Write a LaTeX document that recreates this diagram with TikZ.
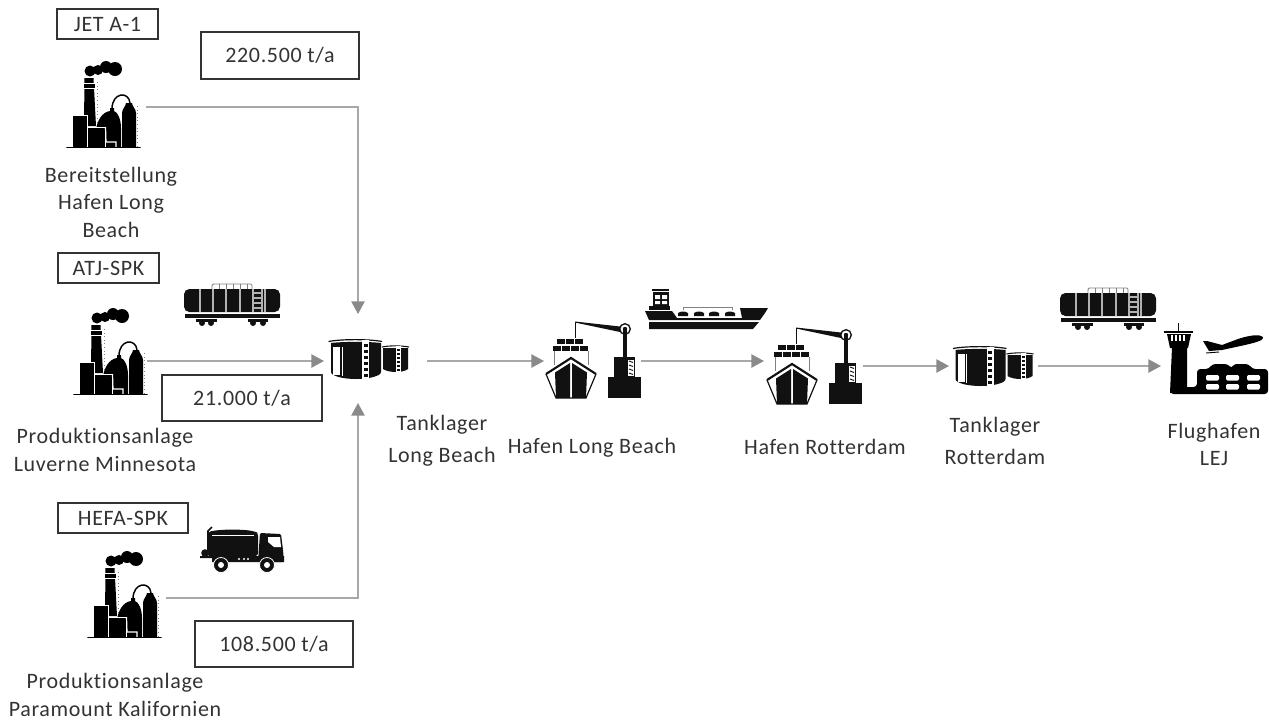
\documentclass[tikz,border=0pt]{standalone}
\usepackage{fontspec}
\setmainfont{Carlito}[LetterSpace=3,RawFeature=-liga]
\usetikzlibrary{arrows.meta}
\definecolor{icon}{HTML}{111111}
\definecolor{txt}{HTML}{333333}
\definecolor{flow}{HTML}{A8A8A8}
\definecolor{tip}{HTML}{8A8A8A}
\tikzset{
  box/.style={draw=txt,line width=1.1pt,fill=white,text=txt,font=\fontsize{16.5}{20}\selectfont,inner sep=0pt},
  caption/.style={text=txt,align=center,font=\fontsize{16.5}{20.6}\selectfont,inner sep=0pt},
  flowline/.style={flow,line width=1.1pt,-{Triangle[length=9.5pt,width=10pt,fill=tip,color=tip]}},
  factory/.pic={
    \fill[black] (18.5,-70) -- (27.5,-70) -- (30,-22) -- (18,-22) -- cycle;
    \fill[black] (18,-64) rectangle (29,-60);
    \draw[white,line width=.4pt] (18,-65) -- (28,-65) (18,-59.5) -- (29,-59.5);
    \foreach \sx/\sy/\sr in {24/-77/5.5,32/-78/5,40/-81/6,49/-79/7} \fill[black] (\sx,\sy) circle (\sr);
    \draw[gray,dotted,line width=.7pt] (31,-66) -- (31,-24) (71.5,-42) -- (71.5,-2);
    \fill[black,draw=white,line width=.5pt] (6,-33) rectangle (21.5,-1);
    \fill[black] (30,-18) .. controls (31,-27) and (36,-36) .. (44,-37) -- (44,-40) -- (48,-40) -- (48,-37) .. controls (52,-36) and (55,-28) .. (55,-20) -- (55,-1) -- (30,-1) -- cycle;
    \fill[black,draw=white,line width=.7pt] (21.5,-21) rectangle (39.5,-1);
    \draw[white,line width=.9pt] (39.5,-21) -- (40,-6) -- (50,-6) -- (50,-1);
    \draw[black,line width=1.1pt] (46,-39) .. controls (46,-56) and (63,-57) .. (64,-45);
    \fill[black] (56,-1) -- (56,-35) .. controls (56,-39) and (60,-42) .. (60,-45) -- (66,-45) .. controls (66,-42) and (70,-39) .. (70,-35) -- (70,-1) -- cycle;
    \draw[black,line width=1.4pt,line cap=round] (1,-.5) -- (74,-.5);
  },
  tanklager/.pic={
    \fill[icon] (2,5) .. controls (14,3.5) and (40,3.5) .. (52,5) -- (52,34) .. controls (52,38) and (40,41) .. (27,41) .. controls (14,41) and (2,38) .. (2,34) -- cycle;
    \draw[icon,line width=.9pt] (-.5,3.5) .. controls (12,1) and (40,1) .. (53,3.5);
    \fill[white] (4,9) rectangle (11,37);
    \draw[white,line width=.6pt] (13,9) -- (13,38);
    \fill[white] (33,2) rectangle (40,41);
    \foreach \ly in {6,12,...,36} \fill[icon] (34.5,\ly) rectangle (38.5,\ly+3);
    \fill[icon] (54,10) -- (54,31) .. controls (60,35) and (74,35) .. (79,31) -- (79,10) -- cycle;
    \draw[icon,line width=.8pt] (53,9) .. controls (60,7.5) and (72,7.5) .. (80,9);
    \fill[white] (67,8) rectangle (72,34);
    \foreach \ly in {11,15,...,31} \fill[icon] (68,\ly) rectangle (71,\ly+2);
  },
  harbour/.pic={
    \foreach \cx in {-14,-5,4} \fill[icon] (\cx,-18) rectangle +(8,5);
    \foreach \cx in {-18,-9,0,9} \fill[icon] (\cx,-11) rectangle +(8,5);
    \draw[gray,line width=.6pt] (-17,-6) -- (-17,8) (17,-6) -- (17,8);
    \draw[icon,line width=1.6pt] (-25,17) -- (0,1) -- (25,17);
    \draw[icon,line width=.9pt] (-25,17) -- (-15,41) -- (15,41) -- (25,17);
    \fill[icon] (-1,6) -- (-16,15.5) -- (-15,41) -- (-1,41) -- cycle;
    \fill[icon] (1,6) -- (16,15.5) -- (15,41) -- (1,41) -- cycle;
    \fill[icon] (37,20) rectangle (70,41);
    \fill[icon] (43,0) rectangle (64,20);
    \fill[white] (57,3) rectangle (63,19);
    \foreach \ly in {4,8,12,16} \draw[icon,line width=.7pt] (58,\ly) -- (62,\ly+1.5);
    \fill[icon] (51.5,-27) rectangle (55.5,0);
    \draw[icon,line width=1pt] (54,-28) circle (5.3);
    \fill[icon] (54,-28) circle (2.2);
    \fill[icon] (4,-35.5) -- (49,-30.5) -- (49,-25) -- (4,-34.5) -- cycle;
    \draw[icon,line width=.7pt] (4,-35) -- (4,-19);
  },
  wagon/.pic={
    \draw[gray,line width=.7pt,rounded corners=1pt] (28,5) -- (28,0) -- (68,0) -- (68,5);
    \foreach \rx in {35,42,49,56,63} \draw[gray,line width=.5pt] (\rx,0) -- (\rx,5);
    \fill[icon,rounded corners=4pt] (0,5) rectangle (96,28);
    \foreach \rx in {16,29,42,56,69,78,81} \draw[gray!60,line width=.9pt] (\rx,5) -- (\rx,28);
    \foreach \ly in {9,14,19,24} \draw[gray!60,line width=.9pt] (69,\ly) -- (78,\ly);
    \fill[icon] (1,29.5) rectangle (96,33.5);
    \fill[icon] (12,35) rectangle (33,38);
    \fill[icon] (64,35) rectangle (84,38);
    \foreach \wx in {18,27,69,79} \fill[icon] (\wx,39) circle (3);
  }
}
\begin{document}
\begin{tikzpicture}[x=.75pt,y=-.75pt]
\useasboundingbox (0,0) rectangle (1269,722);

\node[box,minimum width=75.75pt,minimum height=22.5pt] (jet) at (107.5,24) {JET A-1};
\node[box,minimum width=118.5pt,minimum height=35pt] (mengeA) at (280,55.5) {220.500 t/a};
\node[box,minimum width=75.75pt,minimum height=22.5pt] (atj) at (108.5,268) {ATJ-SPK};
\node[box,minimum width=120pt,minimum height=34.5pt] (mengeB) at (242,398) {21.000 t/a};
\node[box,minimum width=97.5pt,minimum height=22.5pt] (hefa) at (123,518) {HEFA-SPK};
\node[box,minimum width=118.5pt,minimum height=34.5pt] (mengeC) at (274,644) {108.500 t/a};

\pic at (66,148) {factory};
\pic at (73,395) {factory};
\pic at (87,638) {factory};
\pic at (329,338) {tanklager};
\pic at (953.5,345) {tanklager};
\pic at (571,357) {harbour};
\pic at (792,363) {harbour};
\pic at (184,284) {wagon};
\pic at (1060,288) {wagon};

\fill[icon] (652,289) rectangle (669,291);
\fill[icon] (653,292) rectangle (669,306);
\fill[white] (655,295) rectangle (660,299) (662,295) rectangle (667,299) (655,301) rectangle (660,304) (662,301) rectangle (667,304);
\fill[icon] (649,306) rectangle (670,310);
\fill[icon] (645,311) -- (672,311) -- (677,318) -- (742,318) -- (740,308) -- (768,308) -- (765,313) -- (760,320) -- (649,320) -- cycle;
\fill[icon] (649,322) -- (759,322) -- (753,329) -- (649,329) -- cycle;
\draw[gray,line width=.6pt] (683,310) -- (683,307) -- (732,307) -- (732,310);
\foreach \cx in {678,694,709,725} \fill[icon] (\cx,316) -- (\cx,313) .. controls (\cx+3,311) and (\cx+7,311) .. (\cx+10,313) -- (\cx+10,316) -- cycle;

\fill[icon,rounded corners=2pt] (208,532) .. controls (220,529) and (245,529) .. (256,532) -- (258,533) -- (258,556) -- (207,556) -- (209,540) -- cycle;
\draw[white,line width=.7pt] (212,535.5) -- (254,535.5);
\draw[icon,line width=1.2pt] (208,552) -- (208,531) -- (212,527);
\fill[icon] (205,553) circle (3.8);
\fill[icon,rounded corners=1pt] (260,533) -- (281,534) -- (283,550) -- (284,562) -- (258,562) -- cycle;
\fill[white] (268,537) -- (280,537) -- (281,547) -- (274,547) -- (268,542) -- cycle;
\fill[icon] (200,556) rectangle (212,558) (212,556) rectangle (284,562);
\foreach \tx in {221,267} {\fill[icon,draw=white,line width=.6pt] (\tx,565) circle (7.5); \fill[white] (\tx,565) circle (3);}
\foreach \tx in {239,244,248} \fill[white] (\tx,559) circle (1.2);

\draw[icon,line width=1pt] (1178.5,323) -- (1178.5,331);
\fill[black] (1164,330.5) rectangle (1193,333);
\fill[black] (1167,334) -- (1191,334) -- (1188,348) -- (1170,348) -- cycle;
\foreach \wx in {1172,1176,1180,1184} \draw[white,line width=.9pt] (\wx,335) -- (\wx,341);
\fill[black] (1172,347) -- (1187,347) -- (1187,390) -- (1170,393) -- cycle;
\fill[black,rounded corners=2.5pt] (1172,387) -- (1197,387) -- (1197,369) -- (1209,369) -- (1212,364) -- (1228,364) -- (1232,369) -- (1233,364) -- (1249,364) -- (1252,369) -- (1268,369) -- (1268,394) -- (1170,394) -- cycle;
\foreach \wx in {1206,1226,1247} \foreach \wy in {375,384} \fill[white,rounded corners=1pt] (\wx,\wy) rectangle +(13,5.5);
\fill[black] (1263,337) .. controls (1260,334) and (1250,335) .. (1238,339) -- (1222,345) -- (1207,341) -- (1203,341) -- (1209,351) -- (1222,350) -- (1245,345) .. controls (1258,342) and (1264,340) .. (1263,337) -- cycle;
\draw[black,line width=.7pt] (1206,353) -- (1219,352);

\coordinate (factoryAout) at (146,107);
\coordinate (factoryBout) at (147,361);
\coordinate (factoryCout) at (166,598);
\coordinate (tankAin) at (324,361);
\coordinate (tankAtop) at (358,314);
\coordinate (tankAbottom) at (358,403);
\coordinate (tankAout) at (427,361);
\coordinate (shipAin) at (544,361);
\coordinate (shipAout) at (641,361);
\coordinate (shipBin) at (764,361);
\coordinate (shipBout) at (863,366);
\coordinate (tankBin) at (949,366);
\coordinate (tankBout) at (1038,366);
\coordinate (airportin) at (1161,366);

\draw[flowline] (factoryAout) -| (tankAtop);
\draw[flowline] (factoryBout) -- (tankAin);
\draw[flowline] (factoryCout) -| (tankAbottom);
\draw[flowline] (tankAout) -- (shipAin);
\draw[flowline] (shipAout) -- (shipBin);
\draw[flowline] (shipBout) -- (tankBin);
\draw[flowline] (tankBout) -- (airportin);

\node[caption] (bereit) at (111,202) {Bereitstellung\\Hafen Long\\Beach};
\node[caption] (luverne) at (105,450) {Produktionsanlage\\Luverne Minnesota};
\node[caption] (paramount) at (115,695) {Produktionsanlage\\Paramount Kalifornien};
\node[caption] (lagerA) at (442,441) {Tanklager\\[3.5pt]Long Beach};
\node[caption] (hafenA) at (592,448) {Hafen Long Beach};
\node[caption] (hafenB) at (825,447) {Hafen Rotterdam};
\node[caption] (lagerB) at (995,441) {Tanklager\\[3.5pt]Rotterdam};
\node[caption] (flughafen) at (1214,444.5) {Flughafen\\LEJ};
\end{tikzpicture}
\end{document}
